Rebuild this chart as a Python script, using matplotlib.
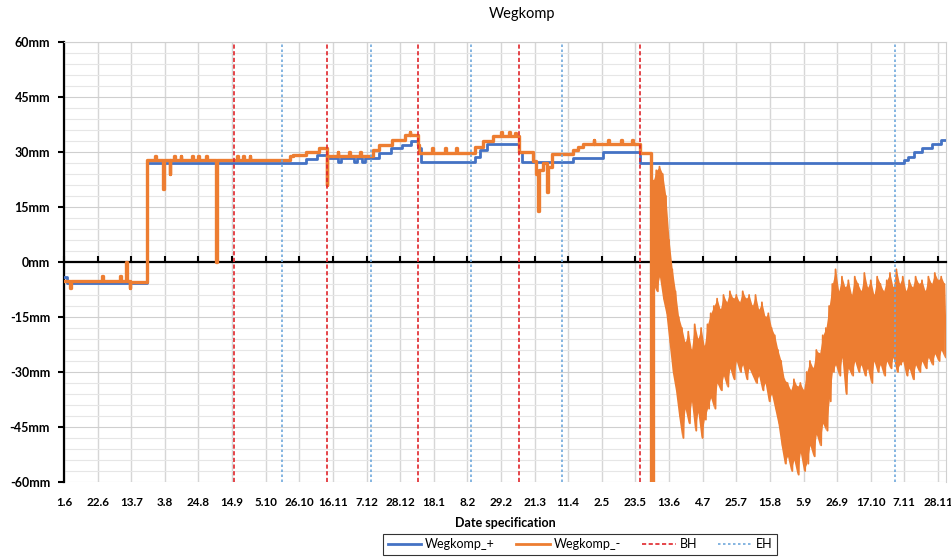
import numpy as np
import matplotlib
matplotlib.use("Agg")
import matplotlib.pyplot as plt
from matplotlib.lines import Line2D

plt.rcParams['font.family'] = ['Lato', 'DejaVu Sans']

# x axis: days since 1.6 (first sample), ticks every 21 days
tick_labels = ["1.6", "22.6", "13.7", "3.8", "24.8", "14.9", "5.10", "26.10", "16.11",
               "7.12", "28.12", "18.1", "8.2", "29.2", "21.3", "11.4", "2.5", "23.5",
               "13.6", "4.7", "25.7", "15.8", "5.9", "26.9", "17.10", "7.11", "28.11"]
tick_step = 21
x_end = 551

# Wegkomp_+ : step levels (day, mm)
plus_day = [0, 2, 52, 151, 158, 164, 171, 173, 181, 183, 186, 188,
            197, 204, 211, 217, 221, 223, 257, 260, 264, 284, 286,
            318, 337, 360, 525, 527, 531, 536, 542, 548, 551]
plus_mm = [-4.0, -5.8, 27.0, 28.0, 29.2, 28.3, 27.3, 28.3, 27.3, 28.3, 27.3, 28.3,
           29.6, 31.0, 31.9, 33.1, 31.0, 27.4, 28.7, 30.5, 32.1, 30.0, 27.4,
           28.3, 30.1, 27.1, 27.8, 28.7, 30.1, 31.0, 32.2, 33.3, 33.3]

# Wegkomp_- : step levels up to the sensor fault (day, mm); short spikes last under a day
minus_day = [0, 4, 4.4, 24, 24.4, 35, 35.4, 39, 39.4, 41, 41.4,
             52, 57, 57.4, 62, 62.4, 66, 66.4, 69, 69.4, 73, 73.4, 80, 80.4, 84, 84.4, 89, 89.4,
             95, 95.4, 108, 108.4, 112, 112.4, 116, 116.4,
             141, 143, 151, 159, 164, 164.4,
             171, 171.4, 178, 178.4, 185, 185.4,
             193, 197, 205, 213, 216, 216.4, 221, 222,
             230, 230.4, 238, 238.4, 245, 245.4,
             255, 257, 262, 268, 273, 273.4, 278, 278.4, 282, 282.4,
             284, 293, 295, 296, 296.5, 299, 302, 302.5, 305, 318, 321, 324,
             331, 331.4, 340, 340.4, 348, 348.4, 355, 355.4,
             360, 367]
minus_mm = [-5.2, -7.0, -5.2, -3.8, -5.2, -3.8, -5.2, 0.0, -5.2, -7.0, -5.5,
            27.8, 29.0, 27.8, 20.0, 27.8, 24.0, 27.8, 29.0, 27.8, 29.0, 27.8, 29.0, 27.8, 29.0, 27.8, 29.0, 27.8,
            0.0, 27.8, 29.0, 27.8, 29.0, 27.8, 29.0, 27.8,
            28.8, 29.2, 30.1, 31.0, 21.0, 28.8,
            30.0, 28.8, 30.0, 28.8, 30.0, 28.8,
            30.5, 31.9, 33.3, 34.6, 35.5, 34.6, 32.0, 29.8,
            31.0, 29.8, 31.0, 29.8, 31.0, 29.8,
            29.6, 31.5, 33.1, 34.4, 35.5, 34.4, 35.5, 34.4, 35.3, 34.4,
            30.0, 27.5, 24.0, 14.0, 25.0, 27.0, 19.0, 26.0, 29.5, 30.5, 31.5, 32.2,
            33.2, 32.2, 33.2, 32.2, 33.2, 32.2, 33.2, 32.2,
            29.6, -60.0]

# Wegkomp_- after day 368: readings every 2 days, upper and lower swing
noise_start = 368
noise_hi = [22, 25, 26, 24, 18, 6, -2, -8, -15, -18,
            -22, -19, -24, -17, -21, -18, -23, -17, -14, -12,
            -10, -13, -9, -11, -8, -10, -9, -11, -8, -10,
            -9, -12, -9, -13, -11, -15, -14, -18, -20, -24,
            -27, -32, -33, -35, -32, -34, -33, -35, -30, -27,
            -29, -24, -25, -20, -18, -12, -6, -2, -8, -4,
            -7, -5, -9, -4, -6, -8, -3, -7, -5, -9,
            -4, -6, -8, -5, -3, -7, -2, -6, -4, -8,
            -5, -7, -4, -6, -5, -8, -4, -6, -3, -5,
            -4, -6]
noise_lo = [-6, -8, -4, -10, -14, -22, -30, -35, -42, -48,
            -40, -44, -38, -46, -41, -48, -43, -40, -37, -40,
            -33, -35, -31, -34, -29, -32, -27, -30, -28, -32,
            -29, -31, -33, -31, -35, -33, -38, -36, -40, -44,
            -50, -55, -53, -57, -54, -58, -52, -57, -55, -50,
            -53, -47, -50, -44, -46, -38, -30, -28, -31, -26,
            -36, -29, -31, -27, -30, -28, -31, -29, -33, -27,
            -30, -28, -31, -27, -29, -26, -30, -28, -27, -31,
            -29, -32, -28, -30, -27, -29, -26, -28, -25, -27,
            -24, -26]

# marker days
bh_day = [106, 164, 221, 284, 360]
eh_day = [136, 192, 254, 311, 519]

c_plus = '#4472C4'
c_minus = '#ED7D31'
c_bh = '#E0262B'
c_eh = '#6FA8DC'

fig = plt.figure(figsize=(9.51, 5.58), dpi=100)
ax = fig.add_axes([64 / 951, 76 / 558, 882 / 951, 440 / 558])

ax.step(plus_day, plus_mm, where='post', color=c_plus, lw=2.0, zorder=3)

# orange: steps, then the oscillating part as alternating hi/lo samples
ax.step(minus_day + [noise_start], minus_mm + [noise_hi[0]], where='post',
        color=c_minus, lw=2.4, zorder=4)
noise_day = noise_start + 2 * np.arange(len(noise_hi))
ax.fill_between(noise_day, noise_lo, noise_hi, color=c_minus, lw=0, zorder=4)
nx, ny = [], []
for d, h, l in zip(noise_day, noise_hi, noise_lo):
    nx += [d, d + 1]
    ny += [h, l]
ax.plot(nx, ny, color=c_minus, lw=1.3, zorder=4)

for d in bh_day:
    ax.axvline(d, color=c_bh, lw=1.2, ls=(0, (2.5, 1.5)), zorder=5)
for d in eh_day:
    ax.axvline(d, color=c_eh, lw=1.2, ls=(0, (1.5, 1.5)), zorder=5)

ax.set_xlim(0, x_end)
ax.set_ylim(-60, 60)
ticks = np.arange(len(tick_labels)) * tick_step
ax.set_xticks(ticks)
ax.set_yticks(np.arange(-60, 61, 15))
ax.set_yticks(np.arange(-60, 61, 3), minor=True)
ax.set_yticklabels([f"{v}mm" for v in range(-60, 61, 15)], fontsize=9, fontweight='bold')

ax.set_axisbelow(True)
ax.grid(which='minor', axis='y', color='#e6e6e6', lw=0.8)
ax.grid(which='major', axis='y', color='#cfcfcf', lw=0.8)
ax.grid(which='major', axis='x', color='#d6d6d6', lw=1.0)

# horizontal axis line crossing at 0 with small upward ticks
ax.spines['bottom'].set_position(('data', 0))
ax.spines['bottom'].set_color('black')
ax.spines['bottom'].set_linewidth(1.6)
ax.spines['bottom'].set_zorder(2.5)
ax.tick_params(axis='x', direction='in', length=4, width=1.5, color='black', labelbottom=False)
ax.spines['left'].set_color('black')
ax.spines['left'].set_linewidth(1.6)
ax.tick_params(axis='y', which='major', direction='out', length=4, width=1.5, color='black', pad=6)
ax.tick_params(axis='y', which='minor', length=0)
for s in ('top', 'right'):
    ax.spines[s].set_color('#d0d0d0')
    ax.spines[s].set_linewidth(0.8)

# date labels at the bottom of the plot area
sec = ax.secondary_xaxis('bottom')
sec.set_xticks(ticks)
sec.set_xticklabels(tick_labels, fontsize=8.4, fontweight='bold')
sec.tick_params(length=0, pad=11)
sec.spines['bottom'].set_visible(False)
sec.set_xlabel("Date specification", fontsize=9, fontweight='bold', labelpad=6)

fig.text(522 / 951, 1 - 14 / 558, "Wegkomp", ha='center', va='center', fontsize=10.5)

handles = [Line2D([], [], color=c_plus, lw=2.0),
           Line2D([], [], color=c_minus, lw=2.0),
           Line2D([], [], color=c_bh, lw=1.2, ls=(0, (2.5, 1.5))),
           Line2D([], [], color=c_eh, lw=1.2, ls=(0, (1.5, 1.5)))]
leg = fig.legend(handles, ["Wegkomp_+", "Wegkomp_-", "BH", "EH"], loc='center',
                 bbox_to_anchor=(580 / 951, 13.5 / 558), ncol=4, fontsize=9,
                 frameon=True, fancybox=False, handlelength=2.7, columnspacing=1.7,
                 borderpad=0.35, handletextpad=0.3, borderaxespad=0)
leg.get_frame().set_edgecolor('black')
leg.get_frame().set_linewidth(0.8)

fig.savefig("out.png", dpi=100)
